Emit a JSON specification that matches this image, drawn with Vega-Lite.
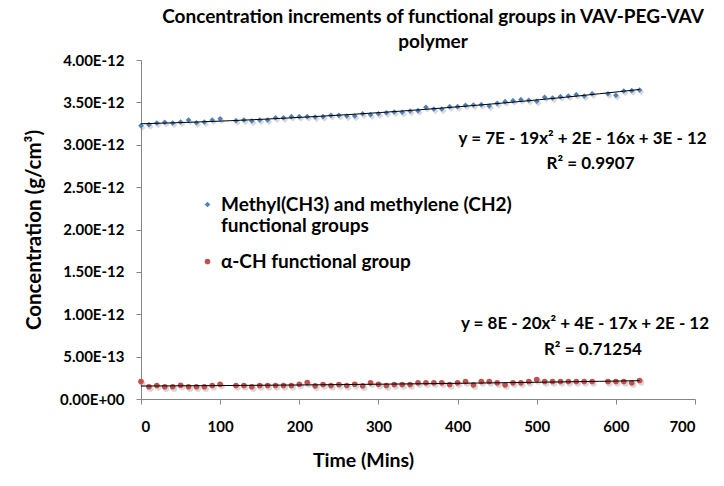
{
  "$schema": "https://vega.github.io/schema/vega-lite/v6.json",
  "width": 554,
  "height": 339,
  "autosize": "none",
  "padding": {"left": 141, "top": 60, "right": 29, "bottom": 87},
  "background": "white",
  "config": {
    "font": "Lato",
    "view": {"stroke": null},
    "axis": {
      "grid": false,
      "domainColor": "#868686",
      "tickColor": "#868686",
      "tickSize": 5,
      "labelFont": "Lato",
      "labelFontWeight": "bold",
      "labelFontSize": 15,
      "labelColor": "black",
      "titleFont": "Lato",
      "titleFontWeight": "bold",
      "titleColor": "black"
    }
  },
  "title": {
    "text": ["Concentration increments of functional groups in VAV-PEG-VAV", "polymer"],
    "anchor": "middle",
    "dx": 15,
    "fontSize": 19,
    "fontWeight": "bold",
    "font": "Lato",
    "color": "black",
    "offset": 1,
    "lineHeight": 25
  },
  "datasets": {
    "points": [
      {"time": 0, "conc": 3.225e-12, "series": "Methyl(CH3) and methylene (CH2) functional groups"},
      {"time": 10, "conc": 3.237e-12, "series": "Methyl(CH3) and methylene (CH2) functional groups"},
      {"time": 20, "conc": 3.257e-12, "series": "Methyl(CH3) and methylene (CH2) functional groups"},
      {"time": 30, "conc": 3.265e-12, "series": "Methyl(CH3) and methylene (CH2) functional groups"},
      {"time": 40, "conc": 3.257e-12, "series": "Methyl(CH3) and methylene (CH2) functional groups"},
      {"time": 50, "conc": 3.268e-12, "series": "Methyl(CH3) and methylene (CH2) functional groups"},
      {"time": 60, "conc": 3.292e-12, "series": "Methyl(CH3) and methylene (CH2) functional groups"},
      {"time": 70, "conc": 3.260e-12, "series": "Methyl(CH3) and methylene (CH2) functional groups"},
      {"time": 80, "conc": 3.268e-12, "series": "Methyl(CH3) and methylene (CH2) functional groups"},
      {"time": 90, "conc": 3.292e-12, "series": "Methyl(CH3) and methylene (CH2) functional groups"},
      {"time": 100, "conc": 3.307e-12, "series": "Methyl(CH3) and methylene (CH2) functional groups"},
      {"time": 120, "conc": 3.284e-12, "series": "Methyl(CH3) and methylene (CH2) functional groups"},
      {"time": 130, "conc": 3.292e-12, "series": "Methyl(CH3) and methylene (CH2) functional groups"},
      {"time": 140, "conc": 3.280e-12, "series": "Methyl(CH3) and methylene (CH2) functional groups"},
      {"time": 150, "conc": 3.292e-12, "series": "Methyl(CH3) and methylene (CH2) functional groups"},
      {"time": 160, "conc": 3.292e-12, "series": "Methyl(CH3) and methylene (CH2) functional groups"},
      {"time": 170, "conc": 3.319e-12, "series": "Methyl(CH3) and methylene (CH2) functional groups"},
      {"time": 180, "conc": 3.319e-12, "series": "Methyl(CH3) and methylene (CH2) functional groups"},
      {"time": 190, "conc": 3.331e-12, "series": "Methyl(CH3) and methylene (CH2) functional groups"},
      {"time": 200, "conc": 3.331e-12, "series": "Methyl(CH3) and methylene (CH2) functional groups"},
      {"time": 210, "conc": 3.331e-12, "series": "Methyl(CH3) and methylene (CH2) functional groups"},
      {"time": 220, "conc": 3.327e-12, "series": "Methyl(CH3) and methylene (CH2) functional groups"},
      {"time": 230, "conc": 3.331e-12, "series": "Methyl(CH3) and methylene (CH2) functional groups"},
      {"time": 240, "conc": 3.347e-12, "series": "Methyl(CH3) and methylene (CH2) functional groups"},
      {"time": 250, "conc": 3.347e-12, "series": "Methyl(CH3) and methylene (CH2) functional groups"},
      {"time": 260, "conc": 3.339e-12, "series": "Methyl(CH3) and methylene (CH2) functional groups"},
      {"time": 270, "conc": 3.339e-12, "series": "Methyl(CH3) and methylene (CH2) functional groups"},
      {"time": 280, "conc": 3.366e-12, "series": "Methyl(CH3) and methylene (CH2) functional groups"},
      {"time": 290, "conc": 3.355e-12, "series": "Methyl(CH3) and methylene (CH2) functional groups"},
      {"time": 300, "conc": 3.366e-12, "series": "Methyl(CH3) and methylene (CH2) functional groups"},
      {"time": 310, "conc": 3.378e-12, "series": "Methyl(CH3) and methylene (CH2) functional groups"},
      {"time": 320, "conc": 3.386e-12, "series": "Methyl(CH3) and methylene (CH2) functional groups"},
      {"time": 330, "conc": 3.383e-12, "series": "Methyl(CH3) and methylene (CH2) functional groups"},
      {"time": 340, "conc": 3.398e-12, "series": "Methyl(CH3) and methylene (CH2) functional groups"},
      {"time": 350, "conc": 3.402e-12, "series": "Methyl(CH3) and methylene (CH2) functional groups"},
      {"time": 360, "conc": 3.442e-12, "series": "Methyl(CH3) and methylene (CH2) functional groups"},
      {"time": 370, "conc": 3.422e-12, "series": "Methyl(CH3) and methylene (CH2) functional groups"},
      {"time": 380, "conc": 3.422e-12, "series": "Methyl(CH3) and methylene (CH2) functional groups"},
      {"time": 390, "conc": 3.449e-12, "series": "Methyl(CH3) and methylene (CH2) functional groups"},
      {"time": 400, "conc": 3.449e-12, "series": "Methyl(CH3) and methylene (CH2) functional groups"},
      {"time": 410, "conc": 3.466e-12, "series": "Methyl(CH3) and methylene (CH2) functional groups"},
      {"time": 420, "conc": 3.469e-12, "series": "Methyl(CH3) and methylene (CH2) functional groups"},
      {"time": 430, "conc": 3.473e-12, "series": "Methyl(CH3) and methylene (CH2) functional groups"},
      {"time": 440, "conc": 3.457e-12, "series": "Methyl(CH3) and methylene (CH2) functional groups"},
      {"time": 450, "conc": 3.489e-12, "series": "Methyl(CH3) and methylene (CH2) functional groups"},
      {"time": 460, "conc": 3.508e-12, "series": "Methyl(CH3) and methylene (CH2) functional groups"},
      {"time": 470, "conc": 3.520e-12, "series": "Methyl(CH3) and methylene (CH2) functional groups"},
      {"time": 480, "conc": 3.532e-12, "series": "Methyl(CH3) and methylene (CH2) functional groups"},
      {"time": 490, "conc": 3.525e-12, "series": "Methyl(CH3) and methylene (CH2) functional groups"},
      {"time": 500, "conc": 3.513e-12, "series": "Methyl(CH3) and methylene (CH2) functional groups"},
      {"time": 510, "conc": 3.560e-12, "series": "Methyl(CH3) and methylene (CH2) functional groups"},
      {"time": 520, "conc": 3.552e-12, "series": "Methyl(CH3) and methylene (CH2) functional groups"},
      {"time": 530, "conc": 3.567e-12, "series": "Methyl(CH3) and methylene (CH2) functional groups"},
      {"time": 540, "conc": 3.575e-12, "series": "Methyl(CH3) and methylene (CH2) functional groups"},
      {"time": 550, "conc": 3.591e-12, "series": "Methyl(CH3) and methylene (CH2) functional groups"},
      {"time": 560, "conc": 3.575e-12, "series": "Methyl(CH3) and methylene (CH2) functional groups"},
      {"time": 570, "conc": 3.602e-12, "series": "Methyl(CH3) and methylene (CH2) functional groups"},
      {"time": 590, "conc": 3.602e-12, "series": "Methyl(CH3) and methylene (CH2) functional groups"},
      {"time": 600, "conc": 3.583e-12, "series": "Methyl(CH3) and methylene (CH2) functional groups"},
      {"time": 610, "conc": 3.634e-12, "series": "Methyl(CH3) and methylene (CH2) functional groups"},
      {"time": 620, "conc": 3.638e-12, "series": "Methyl(CH3) and methylene (CH2) functional groups"},
      {"time": 630, "conc": 3.646e-12, "series": "Methyl(CH3) and methylene (CH2) functional groups"},
      {"time": 0, "conc": 0.206e-12, "series": "α-CH functional group"},
      {"time": 10, "conc": 0.144e-12, "series": "α-CH functional group"},
      {"time": 20, "conc": 0.159e-12, "series": "α-CH functional group"},
      {"time": 30, "conc": 0.144e-12, "series": "α-CH functional group"},
      {"time": 40, "conc": 0.144e-12, "series": "α-CH functional group"},
      {"time": 50, "conc": 0.162e-12, "series": "α-CH functional group"},
      {"time": 60, "conc": 0.144e-12, "series": "α-CH functional group"},
      {"time": 70, "conc": 0.144e-12, "series": "α-CH functional group"},
      {"time": 80, "conc": 0.144e-12, "series": "α-CH functional group"},
      {"time": 90, "conc": 0.159e-12, "series": "α-CH functional group"},
      {"time": 100, "conc": 0.174e-12, "series": "α-CH functional group"},
      {"time": 120, "conc": 0.159e-12, "series": "α-CH functional group"},
      {"time": 130, "conc": 0.159e-12, "series": "α-CH functional group"},
      {"time": 140, "conc": 0.144e-12, "series": "α-CH functional group"},
      {"time": 150, "conc": 0.159e-12, "series": "α-CH functional group"},
      {"time": 160, "conc": 0.159e-12, "series": "α-CH functional group"},
      {"time": 170, "conc": 0.159e-12, "series": "α-CH functional group"},
      {"time": 180, "conc": 0.159e-12, "series": "α-CH functional group"},
      {"time": 190, "conc": 0.159e-12, "series": "α-CH functional group"},
      {"time": 200, "conc": 0.174e-12, "series": "α-CH functional group"},
      {"time": 210, "conc": 0.194e-12, "series": "α-CH functional group"},
      {"time": 220, "conc": 0.155e-12, "series": "α-CH functional group"},
      {"time": 230, "conc": 0.171e-12, "series": "α-CH functional group"},
      {"time": 240, "conc": 0.159e-12, "series": "α-CH functional group"},
      {"time": 250, "conc": 0.171e-12, "series": "α-CH functional group"},
      {"time": 260, "conc": 0.159e-12, "series": "α-CH functional group"},
      {"time": 270, "conc": 0.174e-12, "series": "α-CH functional group"},
      {"time": 280, "conc": 0.155e-12, "series": "α-CH functional group"},
      {"time": 290, "conc": 0.191e-12, "series": "α-CH functional group"},
      {"time": 300, "conc": 0.174e-12, "series": "α-CH functional group"},
      {"time": 310, "conc": 0.159e-12, "series": "α-CH functional group"},
      {"time": 320, "conc": 0.171e-12, "series": "α-CH functional group"},
      {"time": 330, "conc": 0.171e-12, "series": "α-CH functional group"},
      {"time": 340, "conc": 0.171e-12, "series": "α-CH functional group"},
      {"time": 350, "conc": 0.191e-12, "series": "α-CH functional group"},
      {"time": 360, "conc": 0.191e-12, "series": "α-CH functional group"},
      {"time": 370, "conc": 0.191e-12, "series": "α-CH functional group"},
      {"time": 380, "conc": 0.191e-12, "series": "α-CH functional group"},
      {"time": 390, "conc": 0.171e-12, "series": "α-CH functional group"},
      {"time": 400, "conc": 0.191e-12, "series": "α-CH functional group"},
      {"time": 410, "conc": 0.206e-12, "series": "α-CH functional group"},
      {"time": 420, "conc": 0.167e-12, "series": "α-CH functional group"},
      {"time": 430, "conc": 0.206e-12, "series": "α-CH functional group"},
      {"time": 440, "conc": 0.206e-12, "series": "α-CH functional group"},
      {"time": 450, "conc": 0.191e-12, "series": "α-CH functional group"},
      {"time": 460, "conc": 0.167e-12, "series": "α-CH functional group"},
      {"time": 470, "conc": 0.191e-12, "series": "α-CH functional group"},
      {"time": 480, "conc": 0.191e-12, "series": "α-CH functional group"},
      {"time": 490, "conc": 0.206e-12, "series": "α-CH functional group"},
      {"time": 500, "conc": 0.229e-12, "series": "α-CH functional group"},
      {"time": 510, "conc": 0.206e-12, "series": "α-CH functional group"},
      {"time": 520, "conc": 0.206e-12, "series": "α-CH functional group"},
      {"time": 530, "conc": 0.206e-12, "series": "α-CH functional group"},
      {"time": 540, "conc": 0.206e-12, "series": "α-CH functional group"},
      {"time": 550, "conc": 0.206e-12, "series": "α-CH functional group"},
      {"time": 560, "conc": 0.206e-12, "series": "α-CH functional group"},
      {"time": 570, "conc": 0.206e-12, "series": "α-CH functional group"},
      {"time": 590, "conc": 0.206e-12, "series": "α-CH functional group"},
      {"time": 600, "conc": 0.206e-12, "series": "α-CH functional group"},
      {"time": 610, "conc": 0.206e-12, "series": "α-CH functional group"},
      {"time": 620, "conc": 0.191e-12, "series": "α-CH functional group"},
      {"time": 630, "conc": 0.218e-12, "series": "α-CH functional group"}
    ],
    "labels": [
      {"text": "y = 7E - 19x² + 2E - 16x + 3E - 12", "t": 558, "c": 3.068e-12},
      {"text": "R² = 0.9907", "t": 568, "c": 2.773e-12},
      {"text": "y = 8E - 20x² + 4E - 17x + 2E - 12", "t": 561, "c": 0.885e-12},
      {"text": "R² = 0.71254", "t": 571, "c": 0.578e-12}
    ]
  },
  "layer": [
    {
      "data": {"name": "points"},
      "transform": [{"filter": "datum.series != 'α-CH functional group'"}],
      "mark": {"type": "point", "shape": "diamond", "filled": true, "size": 40, "opacity": 0.3, "color": "#808080", "xOffset": 1.5, "yOffset": 2},
      "encoding": {
        "x": {"field": "time", "type": "quantitative"},
        "y": {"field": "conc", "type": "quantitative"}
      }
    },
    {
      "data": {"name": "points"},
      "transform": [{"filter": "datum.series == 'α-CH functional group'"}],
      "mark": {"type": "point", "shape": "circle", "filled": true, "size": 40, "opacity": 0.3, "color": "#808080", "xOffset": 1.5, "yOffset": 2},
      "encoding": {
        "x": {"field": "time", "type": "quantitative"},
        "y": {"field": "conc", "type": "quantitative"}
      }
    },
    {
      "data": {"name": "points"},
      "mark": {"type": "point", "filled": true, "size": 32, "opacity": 1},
      "encoding": {
        "x": {
          "field": "time", "type": "quantitative",
          "scale": {"domain": [0, 700], "nice": false},
          "axis": {"values": [0, 100, 200, 300, 400, 500, 600, 700], "title": "Time (Mins)", "titleFontSize": 19.5, "labelPadding": 15, "titlePadding": 17, "titleX": 222}
        },
        "y": {
          "field": "conc", "type": "quantitative",
          "scale": {"domain": [0, 4e-12], "nice": false},
          "axis": {
            "values": [0, 5e-13, 1e-12, 1.5e-12, 2e-12, 2.5e-12, 3e-12, 3.5e-12, 4e-12],
            "labelExpr": "replace(upper(format(datum.value, '.2e')), 'E+0', 'E+00')",
            "title": "Concentration (g/cm³)",
            "titleFontSize": 20.5,
            "labelPadding": 12,
            "titlePadding": 15
          }
        },
        "color": {
          "field": "series", "type": "nominal",
          "scale": {"domain": ["Methyl(CH3) and methylene (CH2) functional groups", "α-CH functional group"], "range": ["#4F81BD", "#C0504D"]},
          "legend": {
            "title": null,
            "orient": "none",
            "legendX": 57,
            "legendY": 135,
            "padding": 0,
            "labelFont": "Lato",
            "labelFontSize": 19,
            "labelFontWeight": "bold",
            "labelColor": "black",
            "labelLimit": 500,
            "symbolSize": 32,
            "symbolOpacity": 1,
            "rowPadding": 16,
            "labelOffset": 4,
            "labelExpr": "datum.label == 'Methyl(CH3) and methylene (CH2) functional groups' ? ['Methyl(CH3) and methylene (CH2)', 'functional groups'] : datum.label"
          }
        },
        "shape": {
          "field": "series", "type": "nominal",
          "scale": {"domain": ["Methyl(CH3) and methylene (CH2) functional groups", "α-CH functional group"], "range": ["diamond", "circle"]}
        }
      }
    },
    {
      "data": {"name": "points"},
      "transform": [{"regression": "conc", "on": "time", "method": "poly", "order": 2, "groupby": ["series"]}],
      "mark": {"type": "line", "color": "black", "strokeWidth": 1},
      "encoding": {
        "x": {"field": "time", "type": "quantitative"},
        "y": {"field": "conc", "type": "quantitative"},
        "detail": {"field": "series"}
      }
    },
    {
      "data": {"name": "labels"},
      "mark": {"type": "text", "font": "Lato", "fontSize": 17, "fontWeight": "bold", "color": "black", "align": "center", "baseline": "middle"},
      "encoding": {
        "x": {"field": "t", "type": "quantitative"},
        "y": {"field": "c", "type": "quantitative"},
        "text": {"field": "text"}
      }
    }
  ]
}
